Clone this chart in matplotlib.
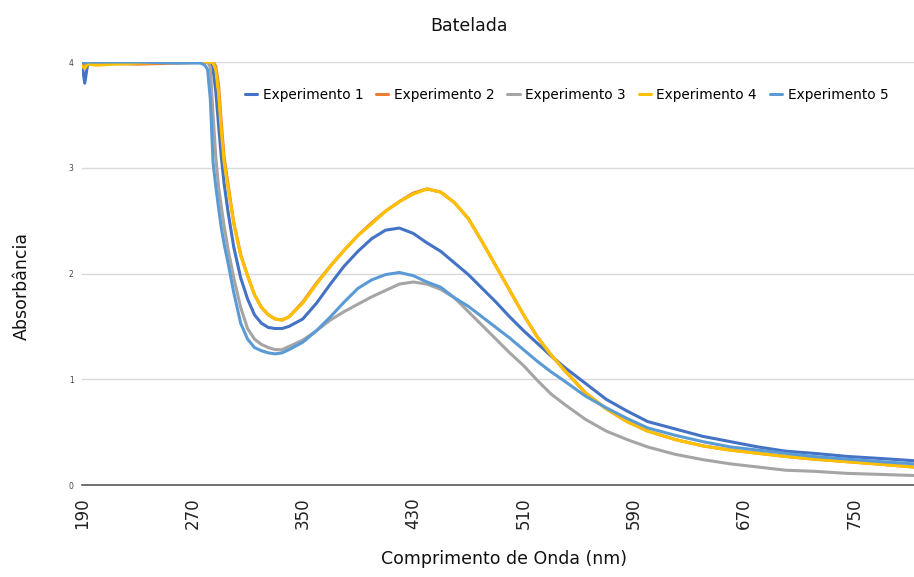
import matplotlib
matplotlib.use("Agg")
import matplotlib.pyplot as plt

# comprimento de onda (nm)
wavelength = [190, 192, 194, 200, 230, 260,
              276, 279, 281, 283, 285, 287, 289, 291, 293, 296,
              300, 305, 310, 315, 320, 325, 330, 335, 340,
              350, 360, 370, 380, 390, 400, 410, 420, 430, 440, 450, 460, 470, 480, 490,
              500, 510, 520, 530, 540,
              555, 570, 585, 600,
              620, 640, 660, 680, 700, 720,
              745, 770, 793]

exp1 = [3.98, 3.80, 3.97, 4.0, 4.0, 4.0,
        4.0, 4.0, 4.0, 3.99, 3.93, 3.72, 3.40, 3.10, 2.85, 2.57,
        2.25, 1.96, 1.76, 1.61, 1.53, 1.49, 1.48, 1.48, 1.50,
        1.57, 1.72, 1.90, 2.07, 2.21, 2.33, 2.41, 2.43, 2.38, 2.29, 2.21, 2.10, 1.99, 1.86, 1.73,
        1.59, 1.46, 1.34, 1.22, 1.11,
        0.96, 0.81, 0.70, 0.60,
        0.53, 0.46, 0.41, 0.36, 0.32, 0.30,
        0.27, 0.25, 0.23]

exp2 = [3.97, 3.96, 3.98, 3.99, 3.98, 3.99,
        4.0, 4.0, 4.0, 4.0, 4.0, 3.96, 3.78, 3.42, 3.10, 2.83,
        2.48, 2.18, 1.98, 1.80, 1.68, 1.61, 1.57, 1.56, 1.59,
        1.73, 1.91, 2.07, 2.22, 2.36, 2.48, 2.59, 2.68, 2.76, 2.80, 2.77, 2.67, 2.52, 2.30, 2.07,
        1.84, 1.61, 1.40, 1.23, 1.08,
        0.87, 0.72, 0.60, 0.51,
        0.43, 0.37, 0.33, 0.30, 0.27, 0.245,
        0.22, 0.195, 0.17]

exp3 = [4.0, 4.0, 4.0, 4.0, 4.0, 4.0,
        4.0, 4.0, 4.0, 3.95, 3.50, 3.10, 2.82, 2.63, 2.45, 2.22,
        1.96, 1.68, 1.48, 1.38, 1.33, 1.30, 1.28, 1.28, 1.31,
        1.37, 1.46, 1.56, 1.64, 1.71, 1.78, 1.84, 1.90, 1.92, 1.90, 1.85, 1.77, 1.64, 1.51, 1.38,
        1.25, 1.13, 0.99, 0.86, 0.76,
        0.62, 0.51, 0.43, 0.36,
        0.29, 0.24, 0.20, 0.17, 0.14, 0.13,
        0.11, 0.10, 0.09]

exp4 = [3.96, 3.94, 3.98, 3.97, 3.99, 4.0,
        4.0, 4.0, 4.0, 4.0, 3.99, 3.93, 3.70, 3.35, 3.05, 2.80,
        2.47, 2.17, 1.98, 1.80, 1.68, 1.61, 1.57, 1.56, 1.59,
        1.72, 1.90, 2.07, 2.22, 2.36, 2.47, 2.59, 2.68, 2.75, 2.80, 2.77, 2.67, 2.52, 2.30, 2.07,
        1.84, 1.61, 1.40, 1.23, 1.08,
        0.87, 0.72, 0.60, 0.51,
        0.43, 0.37, 0.33, 0.30, 0.27, 0.245,
        0.22, 0.195, 0.17]

exp5 = [4.0, 3.99, 4.0, 4.0, 4.0, 3.99,
        3.99, 3.97, 3.93, 3.65, 3.05, 2.82, 2.62, 2.43, 2.28, 2.09,
        1.82, 1.53, 1.38, 1.30, 1.27, 1.25, 1.24, 1.25, 1.28,
        1.35, 1.46, 1.59, 1.73, 1.86, 1.94, 1.99, 2.01, 1.98, 1.92, 1.87, 1.77, 1.69, 1.59, 1.49,
        1.39, 1.28, 1.17, 1.07, 0.98,
        0.84, 0.73, 0.63, 0.54,
        0.47, 0.41, 0.36, 0.33, 0.30, 0.27,
        0.245, 0.22, 0.20]

series = [exp1, exp2, exp3, exp4, exp5]
labels = ["Experimento 1", "Experimento 2", "Experimento 3", "Experimento 4", "Experimento 5"]
colors = ["#4472C4", "#ED7D31", "#A5A5A5", "#FFC000", "#5B9BD5"]

x_ticks = [190, 270, 350, 430, 510, 590, 670, 750]
y_ticks = [0, 1, 2, 3, 4]

fig = plt.figure(figsize=(9.14, 5.77), dpi=100)
ax = fig.add_axes([0.0897, 0.1594, 0.9103, 0.7331])

for y, lab, c in zip(series, labels, colors):
    ax.plot(wavelength, y, color=c, lw=2.2, label=lab, solid_capstyle="round")

ax.set_xlim(190, 793)
ax.set_ylim(0, 4)
ax.set_xticks(x_ticks)
ax.set_yticks(y_ticks)
ax.tick_params(axis="x", length=0, pad=9, labelsize=12, labelrotation=90, colors="#222222")
ax.tick_params(axis="y", length=0, pad=6, labelsize=5.5, colors="#444444")
ax.grid(axis="y", color="#D9D9D9", lw=1)
ax.set_axisbelow(True)
for s in ["top", "right", "left"]:
    ax.spines[s].set_visible(False)
ax.spines["bottom"].set_color("#595959")
ax.spines["bottom"].set_linewidth(1.2)

fig.text(0.513, 0.955, "Batelada", ha="center", va="center", fontsize=12.5, color="#111111")
fig.text(0.551, 0.015, "Comprimento de Onda (nm)", ha="center", va="bottom", fontsize=12.5,
         color="#111111")
fig.text(0.024, 0.505, "Absorbância", ha="center", va="center", rotation=90, fontsize=12.5,
         color="#111111")

ax.legend(loc="center left", bbox_to_anchor=(0.268, 0.835), bbox_transform=fig.transFigure,
          ncol=5, frameon=False, fontsize=9.8, handlelength=0.9, handletextpad=0.4,
          columnspacing=0.95, borderaxespad=0, borderpad=0)

fig.savefig("out.png", dpi=100)
